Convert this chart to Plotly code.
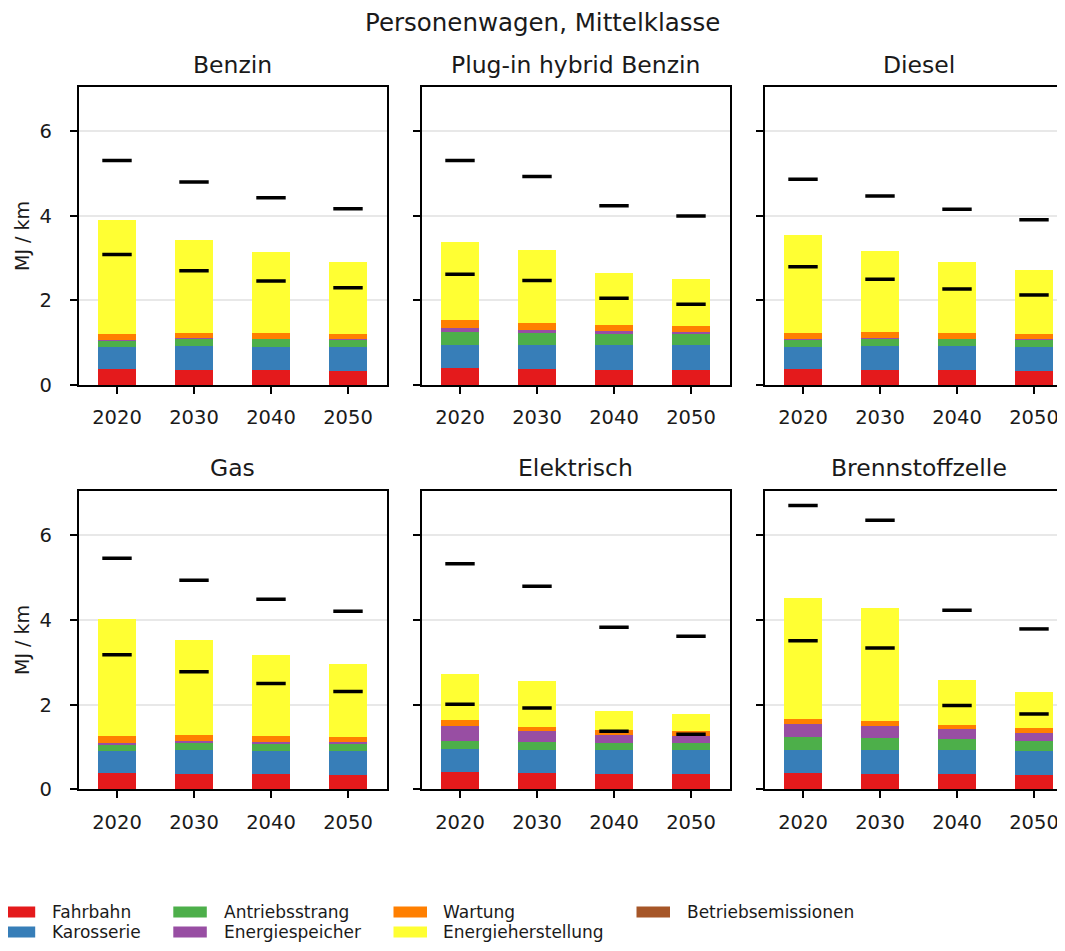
import plotly.graph_objects as go

# ---------------- data ----------------
YEARS = ["2020", "2030", "2040", "2050"]
DRIVES = ["Benzin", "Plug-in hybrid Benzin", "Diesel", "Gas", "Elektrisch", "Brennstoffzelle"]

# segment values (MJ / km), one list per drive (order as DRIVES), 4 years each
FAHRBAHN = [
    [0.37, 0.355, 0.355, 0.33],
    [0.40, 0.38, 0.36, 0.35],
    [0.37, 0.355, 0.355, 0.33],
    [0.38, 0.36, 0.36, 0.34],
    [0.40, 0.385, 0.354, 0.354],
    [0.39, 0.37, 0.37, 0.34],
]
KAROSSERIE = [
    [0.535, 0.575, 0.55, 0.575],
    [0.54, 0.56, 0.58, 0.59],
    [0.535, 0.575, 0.565, 0.575],
    [0.53, 0.575, 0.55, 0.57],
    [0.55, 0.55, 0.576, 0.576],
    [0.55, 0.57, 0.56, 0.56],
]
ANTRIEBSSTRANG = [
    [0.155, 0.17, 0.185, 0.165],
    [0.31, 0.30, 0.27, 0.26],
    [0.175, 0.18, 0.17, 0.175],
    [0.15, 0.155, 0.175, 0.17],
    [0.19, 0.185, 0.16, 0.16],
    [0.29, 0.28, 0.26, 0.23],
]
ENERGIESPEICHER = [
    [0.01, 0.02, 0.01, 0.01],
    [0.11, 0.07, 0.07, 0.06],
    [0.01, 0.01, 0.01, 0.01],
    [0.04, 0.05, 0.035, 0.03],
    [0.35, 0.25, 0.20, 0.18],
    [0.32, 0.28, 0.23, 0.21],
]
WARTUNG = [
    [0.14, 0.12, 0.13, 0.12],
    [0.17, 0.15, 0.15, 0.13],
    [0.14, 0.14, 0.14, 0.12],
    [0.16, 0.15, 0.14, 0.12],
    [0.15, 0.11, 0.12, 0.11],
    [0.12, 0.11, 0.11, 0.10],
]
ENERGIEHERSTELLUNG = [
    [2.70, 2.19, 1.92, 1.72],
    [1.86, 1.73, 1.23, 1.11],
    [2.31, 1.91, 1.67, 1.51],
    [2.77, 2.24, 1.92, 1.73],
    [1.08, 1.08, 0.45, 0.39],
    [2.84, 2.67, 1.05, 0.87],
]
BETRIEBSEMISSIONEN = [
    [0.0, 0.0, 0.0, 0.0],
    [0.0, 0.0, 0.0, 0.0],
    [0.0, 0.0, 0.0, 0.0],
    [0.0, 0.0, 0.0, 0.0],
    [0.0, 0.0, 0.0, 0.0],
    [0.0, 0.0, 0.0, 0.0],
]
# range markers (low / high totals)
RANGE_LOW = [
    [3.09, 2.70, 2.46, 2.30],
    [2.62, 2.47, 2.05, 1.91],
    [2.80, 2.50, 2.27, 2.13],
    [3.18, 2.78, 2.50, 2.31],
    [2.01, 1.92, 1.37, 1.30],
    [3.51, 3.34, 1.98, 1.78],
]
RANGE_HIGH = [
    [5.31, 4.80, 4.43, 4.17],
    [5.31, 4.93, 4.24, 4.00],
    [4.87, 4.47, 4.16, 3.91],
    [5.46, 4.94, 4.49, 4.21],
    [5.33, 4.80, 3.83, 3.62],
    [6.71, 6.36, 4.23, 3.79],
]

COMPONENT_NAMES = ["Fahrbahn", "Karosserie", "Antriebsstrang", "Energiespeicher",
                   "Wartung", "Energieherstellung", "Betriebsemissionen"]
COMPONENT_VALUES = [FAHRBAHN, KAROSSERIE, ANTRIEBSSTRANG, ENERGIESPEICHER,
                    WARTUNG, ENERGIEHERSTELLUNG, BETRIEBSEMISSIONEN]
COMPONENT_COLORS = ["#e41a1c", "#377eb8", "#4daf4a", "#984ea3",
                    "#ff7f00", "#ffff33", "#a65628"]

# ---------------- layout geometry ----------------
OFF = 8                      # page body margin
W, H = 1065 - OFF, 951 - 2 * OFF
FONT = "DejaVu Sans"
TXT = "#1a1a1a"

# positions in screen pixels
col_px = [(78.5, 386.5), (421.5, 729.5), (764.5, 1072.5)]
row_px = [(87.0, 385.0), (491.0, 789.3)]
unit_px = 308.0 / 4.0


def px_x(p):
    return (p - OFF) / W


def px_y(p):
    return (H - (p - OFF)) / H


fig = go.Figure()

for i, drive in enumerate(DRIVES):
    r, c = divmod(i, 3)
    n = i + 1
    xa = "x" if n == 1 else f"x{n}"
    ya = "y" if n == 1 else f"y{n}"
    for name, arr, color in zip(COMPONENT_NAMES, COMPONENT_VALUES, COMPONENT_COLORS):
        fig.add_trace(go.Bar(
            x=YEARS, y=arr[i], name=name, marker=dict(color=color, line=dict(width=0)),
            width=0.5, xaxis=xa, yaxis=ya, legendgroup=name, showlegend=False,
        ))
    for vals in (RANGE_LOW[i], RANGE_HIGH[i]):
        fig.add_trace(go.Scatter(
            x=YEARS, y=vals, mode="markers", xaxis=xa, yaxis=ya, showlegend=False,
            marker=dict(symbol="line-ew", size=21, color="black",
                        line=dict(color="black", width=3.5)),
            hoverinfo="y",
        ))

    x0, x1 = col_px[c]
    x1 = min(x1, OFF + W)
    t0, t1 = row_px[r]
    xr_end = -0.5 + (x1 - x0) / unit_px
    ax_common = dict(linecolor="black", linewidth=1.6, showline=True,
                     ticks="outside", ticklen=7, tickwidth=1.6, tickcolor="black",
                     tickfont=dict(family=FONT, size=19.5, color=TXT), zeroline=False,
                     automargin=False)
    xkey = "xaxis" if n == 1 else f"xaxis{n}"
    ykey = "yaxis" if n == 1 else f"yaxis{n}"
    fig.update_layout({
        xkey: dict(domain=[px_x(x0), min(px_x(x1), 1.0)], anchor=ya, type="category",
                   range=[-0.5, xr_end], mirror=True, showgrid=False,
                   ticklabelstandoff=7, **ax_common),
        ykey: dict(domain=[px_y(t1), px_y(t0)], anchor=xa,
                   range=[0, 7.05], tickvals=[0, 2, 4, 6],
                   showticklabels=(c == 0), mirror=(c != 2),
                   showgrid=True, gridcolor="#e8e8e8", gridwidth=1.6,
                   ticklabelstandoff=14, **ax_common),
    })

annotations = [
    dict(text="Personenwagen, Mittelklasse", x=px_x(542), y=px_y(22), xref="paper",
         yref="paper", showarrow=False, xanchor="center", yanchor="middle",
         font=dict(family=FONT, size=24.5, color=TXT)),
]
for i, drive in enumerate(DRIVES):
    r, c = divmod(i, 3)
    x0, _ = col_px[c]
    cx = x0 + 154
    cy = 65 if r == 0 else 468
    annotations.append(dict(text=drive, x=px_x(cx), y=px_y(cy), xref="paper", yref="paper",
                            showarrow=False, xanchor="center", yanchor="middle",
                            font=dict(family=FONT, size=23.5, color=TXT)))
for cy in (236, 640):
    annotations.append(dict(text="MJ / km", x=px_x(22), y=px_y(cy), xref="paper",
                            yref="paper", showarrow=False, textangle=-90,
                            xanchor="center", yanchor="middle",
                            font=dict(family=FONT, size=19, color=TXT)))

# legend (two rows, filled column by column), drawn as swatches + labels
leg_cols = [(1.7, 50), (173.3, 222), (393.5, 441), (636.5, 685)]
leg_rows = [912.0, 932.0]
shapes = []
for k, (name, color) in enumerate(zip(COMPONENT_NAMES, COMPONENT_COLORS)):
    col, row = divmod(k, 2)
    sx, tx = leg_cols[col]
    cy = leg_rows[row]
    shapes.append(dict(type="rect", xref="paper", yref="paper",
                       x0=px_x(sx), x1=px_x(sx + 33.5), y0=px_y(cy + 5.5), y1=px_y(cy - 5.5),
                       fillcolor=color, line=dict(width=0), layer="above"))
    annotations.append(dict(text=name, x=px_x(tx), y=px_y(cy), xref="paper", yref="paper",
                            showarrow=False, xanchor="left", yanchor="middle",
                            font=dict(family=FONT, size=17, color=TXT)))

fig.update_layout(
    width=W, height=H, margin=dict(l=0, r=0, t=0, b=0, autoexpand=False),
    paper_bgcolor="white", plot_bgcolor="white",
    barmode="stack", bargap=0.5, showlegend=False,
    annotations=annotations, shapes=shapes,
    font=dict(family=FONT, color=TXT),
)

fig.write_html("out.html")
